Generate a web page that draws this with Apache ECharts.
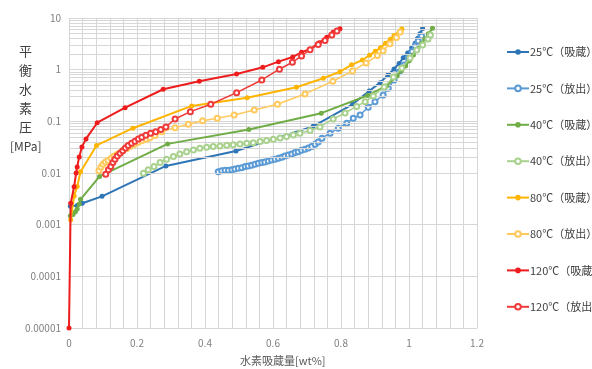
<!DOCTYPE html>
<html><head><meta charset="utf-8">
<script src="https://cdn.jsdelivr.net/npm/echarts@6/dist/echarts.min.js"></script>
<style>html,body{margin:0;padding:0;background:#fff}#c{width:592px;height:369px}</style>
</head><body><div id="c"></div>
<script>
const seriesNames = ['25℃（吸蔵）','25℃（放出）','40℃（吸蔵）','40℃（放出）','80℃（吸蔵）','80℃（放出）','120℃（吸蔵）','120℃（放出）'];
const xTicks = [0,0.2,0.4,0.6,0.8,1,1.2];
const yTicks = [0.00001,0.0001,0.001,0.01,0.1,1,10];

const abs25 = [[0.004,0.00226],[0.024,0.00236],[0.039,0.0026],[0.097,0.00353],[0.285,0.0137],[0.491,0.0267],[0.718,0.080],[0.834,0.214],[0.883,0.387],[0.915,0.561],[0.938,0.789],[0.956,1.03],[0.971,1.32],[0.983,1.70],[0.996,2.10],[1.008,2.63],[1.018,3.24],[1.025,4.01],[1.032,4.94],[1.040,6.27]];
const des25 = [[0.439,0.0106],[0.449,0.0110],[0.459,0.0113],[0.469,0.0113],[0.479,0.0116],[0.488,0.0119],[0.498,0.0124],[0.508,0.0127],[0.518,0.0133],[0.527,0.0137],[0.537,0.0142],[0.547,0.0148],[0.557,0.0155],[0.567,0.0159],[0.576,0.0164],[0.586,0.0171],[0.596,0.0179],[0.606,0.0185],[0.616,0.0193],[0.626,0.0202],[0.635,0.0214],[0.645,0.0224],[0.655,0.0234],[0.665,0.0248],[0.674,0.0259],[0.684,0.0276],[0.694,0.0288],[0.704,0.0306],[0.714,0.0324],[0.724,0.0361],[0.733,0.0400],[0.744,0.0471],[0.768,0.0589],[0.792,0.0736],[0.817,0.0918],[0.836,0.115],[0.856,0.133],[0.880,0.187],[0.900,0.240],[0.924,0.324],[0.939,0.437],[0.956,0.632],[0.971,0.903],[0.985,1.23],[0.998,1.68],[1.009,2.25],[1.018,2.87],[1.027,3.59],[1.037,4.49]];
const abs40 = [[0.004,0.00148],[0.012,0.00158],[0.019,0.00177],[0.024,0.0020],[0.030,0.00252],[0.034,0.0031],[0.090,0.0086],[0.290,0.0366],[0.529,0.0694],[0.742,0.144],[0.878,0.317],[0.934,0.484],[0.965,0.755],[0.978,0.957],[0.990,1.18],[1.001,1.49],[1.013,1.92],[1.026,2.54],[1.037,3.24],[1.047,3.96],[1.057,4.95],[1.069,6.32]];
const des40 = [[0.219,0.0099],[0.233,0.0115],[0.250,0.0133],[0.268,0.0159],[0.287,0.0185],[0.307,0.0208],[0.326,0.0234],[0.346,0.0259],[0.366,0.0280],[0.385,0.0302],[0.405,0.0315],[0.424,0.0324],[0.444,0.0334],[0.464,0.0345],[0.483,0.0354],[0.503,0.0366],[0.523,0.0377],[0.542,0.0387],[0.562,0.0405],[0.581,0.0424],[0.601,0.0451],[0.621,0.0478],[0.640,0.0506],[0.660,0.0546],[0.679,0.0589],[0.709,0.0667],[0.738,0.078],[0.777,0.111],[0.812,0.145],[0.846,0.194],[0.871,0.240],[0.895,0.310],[0.927,0.462],[0.954,0.722],[0.979,1.08],[1.003,1.68],[1.023,2.40],[1.040,3.00],[1.056,3.92],[1.063,4.69]];
const abs80 = [[0.005,0.00124],[0.015,0.0036],[0.024,0.0055],[0.034,0.0106],[0.081,0.0342],[0.188,0.0736],[0.361,0.199],[0.524,0.287],[0.669,0.457],[0.748,0.682],[0.797,0.915],[0.831,1.24],[0.863,1.54],[0.884,1.90],[0.901,2.28],[0.916,2.65],[0.931,3.24],[0.945,3.89],[0.956,4.59],[0.979,6.13]];
const des80 = [[0.088,0.0110],[0.094,0.0131],[0.100,0.0147],[0.107,0.0164],[0.115,0.0175],[0.124,0.0192],[0.132,0.0210],[0.141,0.0229],[0.150,0.0245],[0.159,0.0274],[0.170,0.0299],[0.179,0.0327],[0.191,0.0357],[0.203,0.0391],[0.215,0.0424],[0.228,0.0451],[0.238,0.0482],[0.253,0.0533],[0.273,0.0632],[0.312,0.0755],[0.351,0.0879],[0.393,0.103],[0.436,0.115],[0.486,0.133],[0.545,0.166],[0.613,0.214],[0.694,0.339],[0.776,0.597],[0.834,0.944],[0.874,1.35],[0.907,1.88],[0.924,2.33],[0.944,3.17],[0.963,4.20],[0.974,5.36]];
const abs120 = [[0.0,0.00001],[0.005,0.0026],[0.015,0.0054],[0.021,0.0100],[0.024,0.0131],[0.030,0.0205],[0.038,0.032],[0.050,0.0457],[0.083,0.094],[0.165,0.184],[0.277,0.418],[0.383,0.597],[0.493,0.826],[0.570,1.11],[0.616,1.43],[0.658,1.76],[0.684,2.17],[0.709,2.48],[0.736,3.33],[0.758,4.24],[0.777,5.29],[0.797,6.2]];
const des120 = [[0.108,0.0095],[0.116,0.0115],[0.123,0.0133],[0.129,0.0159],[0.135,0.0185],[0.142,0.0214],[0.150,0.0242],[0.158,0.0271],[0.166,0.0306],[0.174,0.0339],[0.184,0.0377],[0.194,0.0412],[0.204,0.0457],[0.214,0.0492],[0.226,0.0538],[0.240,0.0589],[0.255,0.0632],[0.270,0.0697],[0.285,0.078],[0.312,0.111],[0.357,0.154],[0.417,0.214],[0.493,0.359],[0.567,0.632],[0.619,1.02],[0.657,1.39],[0.684,1.84],[0.709,2.43],[0.733,3.07],[0.753,3.67],[0.773,4.69],[0.788,5.6]];

const dataSets = [abs25,des25,abs40,des40,abs80,des80,abs120,des120];
const colors = ['#2E75B6','#5B9BD5','#70AD47','#A9D18E','#FFB400','#FFC95C','#EE1C1C','#F03A3A'];
const hollow = [false,true,false,true,false,true,false,true];

const FONT = '"Noto Sans CJK JP","Noto Sans",sans-serif';
const GRID = '#d6d6d6';

const minorVals = [];
for (let e = -5; e < 1; e++) for (let k = 2; k <= 9; k++) minorVals.push({yAxis: k * Math.pow(10, e)});

const series = dataSets.map((d, i) => ({
  name: seriesNames[i],
  type: 'line',
  data: d,
  symbol: hollow[i] ? 'emptyCircle' : 'circle',
  symbolSize: 5,
  showSymbol: true,
  lineStyle: {width: hollow[i] ? 1.5 : 2, color: colors[i]},
  itemStyle: {color: colors[i], borderWidth: hollow[i] ? 1.1 : 0},
  z: 3 + i,
  animation: false
}));
series.unshift({
  name: 'grid', type: 'line', data: [], silent: true, animation: false, z: 1,
  markLine: {silent: true, symbol: ['none','none'], label: {show: false}, animation: false,
    lineStyle: {color: GRID, width: 1, type: 'solid'}, data: minorVals}
});

const fmtY = v => {
  const e = Math.round(Math.log10(v));
  return e >= 0 ? String(Math.round(v)) : v.toFixed(-e);
};

const chart = echarts.init(document.getElementById('c'), null, {renderer: 'canvas'});
chart.setOption({
  animation: false,
  backgroundColor: '#fff',
  grid: {left: 69, right: 115, top: 18, bottom: 41, containLabel: false},
  xAxis: {
    type: 'value', min: xTicks[0], max: xTicks[xTicks.length - 1], interval: 0.2,
    axisLine: {show: true, lineStyle: {color: GRID}},
    axisTick: {show: false},
    axisLabel: {color: '#7f7f7f', fontSize: 10, fontFamily: FONT, margin: 10},
    splitLine: {show: true, lineStyle: {color: GRID}},
    minorTick: {show: false, splitNumber: 5},
    minorSplitLine: {show: true, lineStyle: {color: GRID}}
  },
  yAxis: {
    type: 'log', logBase: 10, min: yTicks[0], max: yTicks[yTicks.length - 1],
    axisLine: {show: false},
    axisTick: {show: false},
    axisLabel: {color: '#7f7f7f', fontSize: 10, fontFamily: FONT, margin: 8, formatter: fmtY},
    splitLine: {show: true, lineStyle: {color: GRID}}
  },
  legend: {
    data: seriesNames,
    orient: 'vertical', left: 501, top: 40,
    itemWidth: 22, itemHeight: 7, itemGap: 22.4,
    textStyle: {color: '#404040', fontSize: 11, fontFamily: FONT, lineHeight: 14, padding: [0,0,0,-4]},
    selectedMode: false
  },
  graphic: [
    {type: 'text', left: 19, top: 42, style: {text: '平\n衡\n水\n素\n圧', fill: '#404040', font: '13px ' + FONT, lineHeight: 19}},
    {type: 'text', left: 10, top: 140, style: {text: '[MPa]', fill: '#404040', font: '12px ' + FONT}},
    {type: 'text', left: 240, top: 355, style: {text: '水素吸蔵量[wt%]', fill: '#595959', font: '11px ' + FONT}}
  ],
  series: series
});
</script></body></html>
